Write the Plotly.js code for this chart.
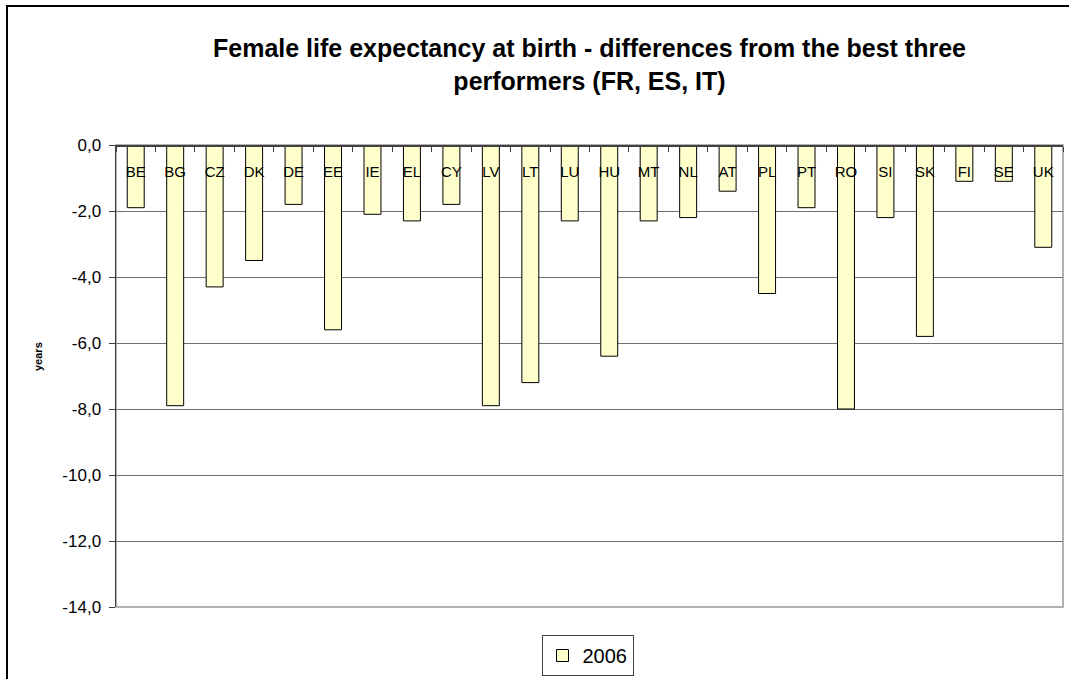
<!DOCTYPE html>
<html>
<head>
<meta charset="utf-8">
<script src="https://cdn.plot.ly/plotly-3.0.1.min.js"></script>
<style>
html,body{margin:0;padding:0;background:#fff;}
#chart{width:1069px;height:679px;}
</style>
</head>
<body>
<div id="chart"></div>
<script>
const countries = ["BE","BG","CZ","DK","DE","EE","IE","EL","CY","LV","LT","LU","HU","MT","NL","AT","PL","PT","RO","SI","SK","FI","SE","UK"];
const values2006 = [-1.9,-7.9,-4.3,-3.5,-1.8,-5.6,-2.1,-2.3,-1.8,-7.9,-7.2,-2.3,-6.4,-2.3,-2.2,-1.4,-4.5,-1.9,-8.0,-2.2,-5.8,-1.1,-1.1,-3.1];
const seriesName = "2006";
const yTickVals = [0,-2,-4,-6,-8,-10,-12,-14];
const yTickText = ["0,0","-2,0","-4,0","-6,0","-8,0","-10,0","-12,0","-14,0"];

const trace = {
  type: "bar",
  x: countries,
  y: values2006,
  name: seriesName,
  marker: {color: "#FFFFCC", line: {color: "#000000", width: 1}},
  showlegend: true,
  hoverinfo: "x+y"
};

const W = 1069, H = 679;
const L = 116, R = 6, T = 145, B = 72;
const pw = W - L - R, ph = H - T - B;
const px = v => (v - L) / pw;
const py = v => (H - B - v) / ph;

const layout = {
  width: W, height: H,
  margin: {l: L, r: R, t: T, b: B, pad: 0, autoexpand: false},
  paper_bgcolor: "#ffffff",
  plot_bgcolor: "#ffffff",
  font: {family: "Liberation Sans, Arial, sans-serif", color: "#000", size: 15},
  bargap: 0.57,
  title: {
    text: "<b>Female life expectancy at birth - differences from the best three<br>performers (FR, ES, IT)</b>",
    font: {size: 25, family: "Liberation Sans, Arial, sans-serif", color: "#000"},
    x: 0.5, xref: "paper", xanchor: "center",
    y: 1 - 57 / H, yref: "container", yanchor: "middle"
  },
  xaxis: {
    type: "category",
    anchor: "free",
    position: 1,
    side: "bottom",
    showline: true, linecolor: "#404040", linewidth: 1.5,
    ticks: "outside", ticklen: 5, tickcolor: "#404040", tickson: "boundaries",
    ticklabelstandoff: 12,
    tickfont: {size: 15},
    showgrid: false, zeroline: false,
    fixedrange: true
  },
  yaxis: {
    range: [-14, 0],
    tickvals: yTickVals,
    ticktext: yTickText,
    showline: true, linecolor: "#404040", linewidth: 1.5,
    ticks: "outside", ticklen: 6, tickcolor: "#404040",
    ticklabelstandoff: 4,
    showgrid: true, gridcolor: "#707070", gridwidth: 1,
    zeroline: false,
    tickfont: {size: 17},
    fixedrange: true
  },
  legend: {
    orientation: "h",
    x: px(587.5), xanchor: "center",
    y: py(655.5), yanchor: "middle",
    bordercolor: "#404040", borderwidth: 1,
    bgcolor: "#ffffff",
    font: {size: 20},
    itemwidth: 30
  },
  annotations: [{
    text: "<b>years</b>",
    xref: "paper", yref: "paper",
    x: px(38), y: py(357),
    textangle: -90, showarrow: false,
    font: {size: 11},
    xanchor: "center", yanchor: "middle"
  }],
  shapes: [
    {type: "rect", xref: "paper", yref: "paper", x0: 0, x1: 1, y0: 0, y1: 1,
     line: {color: "#999999", width: 1.5}, layer: "below"},
    {type: "rect", xref: "paper", yref: "paper",
     x0: px(7), x1: px(1080), y0: py(690), y1: py(6),
     line: {color: "#000000", width: 2}, layer: "above"}
  ]
};

Plotly.newPlot("chart", [trace], layout, {displayModeBar: false, staticPlot: true});
</script>
</body>
</html>
